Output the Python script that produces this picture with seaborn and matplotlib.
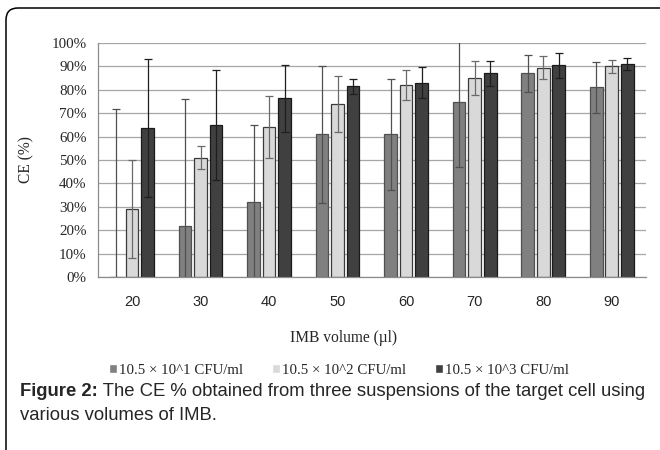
import pandas as pd
import numpy as np
import matplotlib.pyplot as plt
import seaborn as sns
from matplotlib.ticker import PercentFormatter, MultipleLocator
from matplotlib.patches import FancyBboxPatch

# Values (CE in %)
volumes = ['20', '30', '40', '50', '60', '70', '80', '90']
series_names = ['10.5 × 10^1 CFU/ml', '10.5 × 10^2 CFU/ml', '10.5 × 10^3 CFU/ml']
ce_1 = [0, 22, 32, 61, 61, 75, 87, 81]
ce_2 = [29, 51, 64, 74, 82, 85, 89.5, 90]
ce_3 = [63.5, 65, 76.3, 81.5, 83, 87, 90.5, 91]
err_1 = [72, 54, 33, 29.2, 23.7, 28, 7.9, 11]
err_2 = [21, 5, 13.2, 12.1, 6.5, 7.4, 4.9, 2.7]
err_3 = [29.5, 23.5, 14.5, 3.1, 6.6, 5.3, 5.3, 2.7]

fill_colors = ['#808080', '#d9d9d9', '#404040']
edge_colors = ['#505050', '#3a3a3a', '#1a1a1a']
err_colors = ['#505050', '#6a6a6a', '#1e1e1e']

df = pd.DataFrame({
    'volume': volumes * 3,
    'ce': ce_1 + ce_2 + ce_3,
    'series': [s for s in series_names for _ in volumes],
})
errs = [err_1, err_2, err_3]

sns.set_theme(style='white')
plt.rcParams['font.family'] = ['Liberation Serif', 'DejaVu Serif']

fig = plt.figure(figsize=(6.6, 4.5), dpi=100)
ax = fig.add_axes([97.7 / 660, 1 - 277 / 450, (646 - 97.7) / 660, (277 - 43) / 450])

sns.barplot(data=df, x='volume', y='ce', hue='series', hue_order=series_names,
            palette=fill_colors, errorbar=None, width=0.68, gap=0.18,
            saturation=1, ax=ax)

# style bars + error bars from the drawn bar positions
for cont, ec, errc, e in zip(ax.containers, edge_colors, err_colors, errs):
    xs, ys = [], []
    for bar in cont:
        bar.set_edgecolor(ec)
        bar.set_linewidth(0.9)
        xs.append(bar.get_x() + bar.get_width() / 2)
        ys.append(bar.get_height())
    ax.errorbar(xs, ys, yerr=e, fmt='none', ecolor=errc, elinewidth=0.9,
                capsize=3, capthick=0.9, zorder=5)

ax.set_ylim(0, 100)
ax.set_xlim(-0.5, len(volumes) - 0.5)
ax.yaxis.set_major_locator(MultipleLocator(10))
ax.yaxis.set_major_formatter(PercentFormatter(100, decimals=0))
ax.yaxis.grid(True, color='#a6a6a6', lw=0.9)
ax.set_axisbelow(True)
for s in ['top', 'right']:
    ax.spines[s].set_visible(False)
for s in ['left', 'bottom']:
    ax.spines[s].set_color('#8c8c8c')
    ax.spines[s].set_linewidth(0.9)

ax.tick_params(axis='y', length=0, pad=8, labelsize=10.8)
ax.tick_params(axis='x', length=0, pad=13, labelsize=10.5)
for lbl in ax.get_xticklabels():
    lbl.set_family(['Liberation Sans', 'DejaVu Sans'])
ax.set_xlabel('')
ax.set_ylabel('CE (%)', fontsize=11.2, labelpad=12)

fig.text(344 / 660, 1 - 338 / 450, 'IMB volume (µl)', ha='center', va='center', fontsize=11.2)

handles, labels = ax.get_legend_handles_labels()
ax.get_legend().remove()
fig.legend(handles, labels, loc='center', bbox_to_anchor=(339 / 660, 1 - 370 / 450),
           ncol=3, frameon=False, fontsize=10.7, handlelength=0.55, handleheight=0.55,
           handletextpad=0.15, columnspacing=1.9)

# caption
sans = ['Liberation Sans', 'DejaVu Sans']
t1 = fig.text(20 / 660, 1 - 391 / 450, 'Figure 2:', fontsize=13.3, fontweight='bold',
              family=sans, va='center')
fig.canvas.draw()
ax.annotate(' The CE % obtained from three suspensions of the target cell using',
            xy=(1, 0), xycoords=t1, va='bottom', ha='left', fontsize=13.3, family=sans,
            annotation_clip=False)
fig.text(20 / 660, 1 - 416 / 450, 'various volumes of IMB.', fontsize=13.3,
         family=sans, va='center')

# rounded frame around the figure panel
frame = FancyBboxPatch((0.06, -0.5), 7.0, 4.42 + 0.5,
                       boxstyle='round,pad=0,rounding_size=0.12',
                       transform=fig.dpi_scale_trans, fill=False,
                       edgecolor='black', lw=1.1)
fig.patches.append(frame)

fig.savefig('out.png', dpi=100)
